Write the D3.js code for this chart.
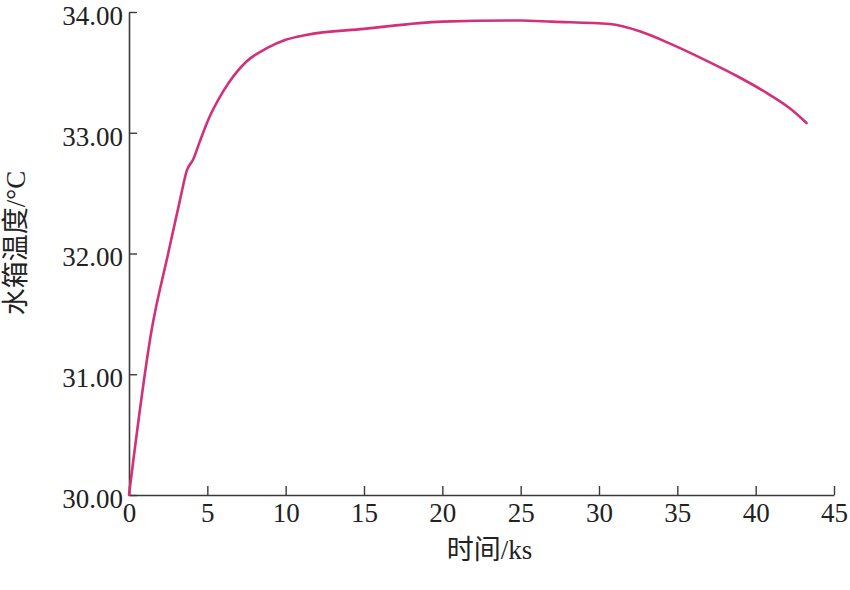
<!DOCTYPE html>
<html>
<head>
<meta charset="utf-8">
<script src="https://cdn.jsdelivr.net/npm/d3@7"></script>
<style>
  html, body { margin: 0; padding: 0; background: #fff; }
  svg { display: block; }
</style>
</head>
<body>
<svg id="chart" width="850" height="590"></svg>
<script>
// Data
const timeKs = [0, 1.45, 2.5, 3.25, 3.7, 4.1, 4.5, 5.0, 6.0, 7.5, 8.8, 10.0, 11.3, 15, 20, 25, 27, 30.7, 32.6, 34.5, 36.65, 38.8, 40.7, 42.2, 43.25];
const tankTemp = [30.0, 31.37, 32.0, 32.44, 32.69, 32.78, 32.92, 33.09, 33.34, 33.59, 33.70, 33.77, 33.81, 33.86, 33.92, 33.93, 33.92, 33.90, 33.84, 33.74, 33.61, 33.47, 33.33, 33.20, 33.08];
const xTicks = [0, 5, 10, 15, 20, 25, 30, 35, 40, 45];
const yTicks = [30, 31, 32, 33, 34];
const xLabel = "时间/ks";
const yLabel = "水箱温度/°C";

(function () {
const svg = d3.select("#chart");
const mLeft = 129, mRight = 834, mTop = 12, mBottom = 495;

const x = d3.scaleLinear().domain([0, 45]).range([mLeft, mRight]);
const y = d3.scaleLinear().domain([30, 34]).range([mBottom, mTop]);

const axisColor = "#3a3a3a";
const fontSerif = "'Liberation Serif', 'Noto Sans CJK SC', serif";

// X axis
const gx = svg.append("g")
  .attr("transform", `translate(0,${mBottom})`)
  .call(d3.axisBottom(x).tickValues(xTicks).tickFormat(d3.format("d"))
        .tickSizeInner(-9).tickSizeOuter(0).tickPadding(8));
gx.select(".domain").attr("stroke", axisColor).attr("stroke-width", 1.6);
gx.selectAll(".tick line").attr("stroke", axisColor).attr("stroke-width", 1.4);
gx.selectAll(".tick text").attr("font-size", 27).attr("fill", "#222")
  .attr("font-family", fontSerif).attr("dy", "0.72em");

// Y axis
const gy = svg.append("g")
  .attr("transform", `translate(${mLeft},0)`)
  .call(d3.axisLeft(y).tickValues(yTicks).tickFormat(d3.format(".2f"))
        .tickSizeInner(-8).tickSizeOuter(0).tickPadding(6));
gy.select(".domain").attr("stroke", axisColor).attr("stroke-width", 1.6);
gy.selectAll(".tick line").attr("stroke", axisColor).attr("stroke-width", 1.4);
gy.selectAll(".tick text").attr("font-size", 27).attr("fill", "#222")
  .attr("font-family", fontSerif).attr("dy", "0.46em");

// Line
const pts = timeKs.map((t, i) => [t, tankTemp[i]]);
svg.append("path")
  .datum(pts)
  .attr("fill", "none")
  .attr("stroke", "#d3307a")
  .attr("stroke-width", 2.6)
  .attr("stroke-linejoin", "round")
  .attr("stroke-linecap", "round")
  .attr("d", d3.line().x(d => x(d[0])).y(d => y(d[1])).curve(d3.curveMonotoneX));

// Axis titles
svg.append("text")
  .attr("x", (444 + 535) / 2).attr("y", 559)
  .attr("text-anchor", "middle")
  .attr("font-family", fontSerif)
  .attr("font-size", 27)
  .attr("fill", "#222")
  .text(xLabel);

svg.append("text")
  .attr("transform", "translate(25,243) rotate(-90)")
  .attr("text-anchor", "middle")
  .attr("font-family", fontSerif)
  .attr("font-size", 27)
  .attr("fill", "#222")
  .text(yLabel);
})();
</script>
</body>
</html>
